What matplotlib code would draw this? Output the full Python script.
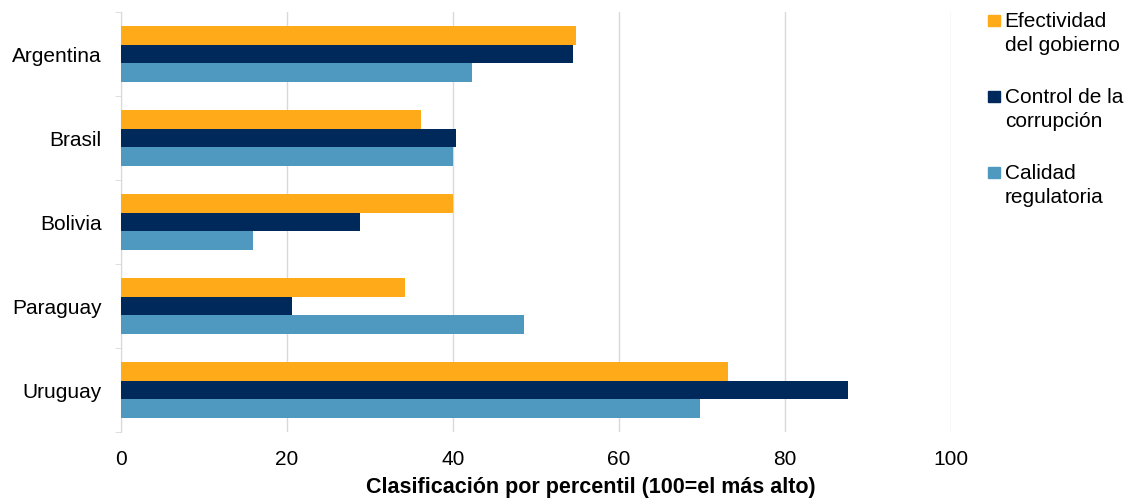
import numpy as np
import matplotlib
matplotlib.use("Agg")
import matplotlib.pyplot as plt
from matplotlib.patches import Rectangle
from matplotlib.ticker import FixedLocator

plt.rcParams["font.family"] = ["Liberation Sans", "DejaVu Sans"]

countries = ["Argentina", "Brasil", "Bolivia", "Paraguay", "Uruguay"]
efectividad = [54.8, 36.1, 40.0, 34.2, 73.1]
corrupcion = [54.4, 40.4, 28.8, 20.6, 87.6]
calidad = [42.3, 40.0, 15.9, 48.6, 69.8]

series_labels = [("Efectividad", "del gobierno"),
                 ("Control de la", "corrupción"),
                 ("Calidad", "regulatoria")]
colors = ["#FFAB19", "#00295B", "#4F99C1"]
xticks = [0, 20, 40, 60, 80, 100]

fig = plt.figure(figsize=(11.25, 5), dpi=100)
ax = fig.add_axes([0.1076, 0.136, 0.7378, 0.84])

y = np.arange(len(countries))
h = 0.222
for i, (vals, color) in enumerate(zip([efectividad, corrupcion, calidad], colors)):
    ax.barh(y + (i - 1) * h, vals, height=h, color=color, zorder=3)

ax.set_xlim(0, 100)
ax.set_ylim(len(countries) - 0.5, -0.5)
ax.set_xticks(xticks)
ax.set_yticks(y)
ax.set_yticklabels(countries)
ax.yaxis.set_minor_locator(FixedLocator(np.arange(-0.5, len(countries), 1.0)))

ax.grid(axis="x", color="#D9D9D9", linewidth=1, zorder=0)
for side in ["top", "right", "bottom"]:
    ax.spines[side].set_visible(False)
ax.spines["left"].set_color("#D9D9D9")
ax.tick_params(axis="x", length=0, pad=13, labelsize=15)
ax.tick_params(axis="y", which="major", length=0, pad=14, labelsize=15)
ax.tick_params(axis="y", which="minor", length=4.5, color="#D9D9D9")
ax.set_xlabel("Clasificación por percentil (100=el más alto)", fontsize=15.5,
              fontweight="bold")
ax.xaxis.set_label_coords(0.566, -0.107)

# legend drawn by hand so each square sits on the first line of its label
for i, ((line1, line2), color) in enumerate(zip(series_labels, colors)):
    base = 1 - (27 + 76 * i) / 500
    fig.patches.append(Rectangle((0.8785, base + 0.002), 0.0105, 0.022,
                                 transform=fig.transFigure, color=color))
    fig.text(0.893, base, line1, fontsize=15, va="baseline", ha="left")
    fig.text(0.893, base - 24 / 500, line2, fontsize=15, va="baseline", ha="left")

fig.savefig("out.png", dpi=100)
